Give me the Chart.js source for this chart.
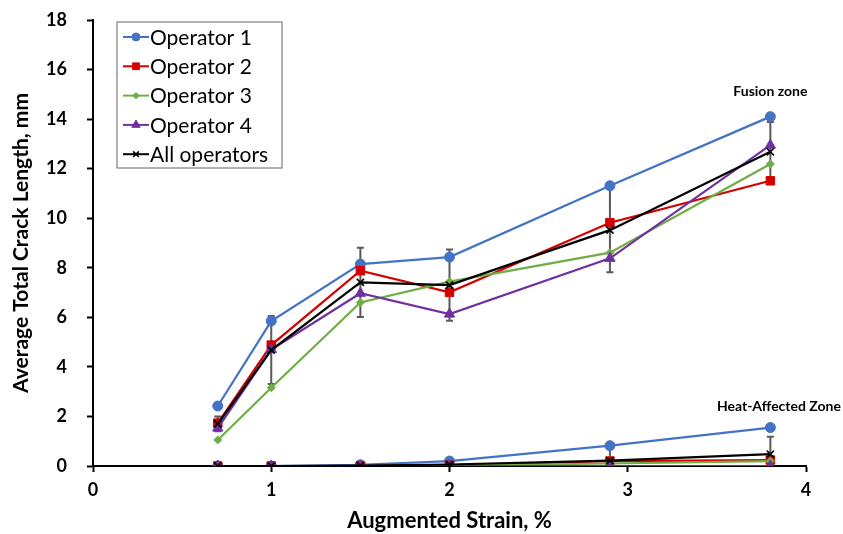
<!DOCTYPE html>
<html>
<head>
<meta charset="utf-8">
<script src="https://cdn.jsdelivr.net/npm/chart.js"></script>
<style>
  html, body { margin: 0; padding: 0; background: #fff; }
  #wrap { width: 843px; height: 534px; }
</style>
</head>
<body>
<div id="wrap"><canvas id="crackChart" width="843" height="534"></canvas></div>
<script>
// Augmented strain (%) at which each test was run
const strain = [0.7, 1.0, 1.5, 2.0, 2.9, 3.8];

// Fusion zone - average total crack length (mm)
const fusionOp1 = [2.42, 5.85, 8.15, 8.43, 11.31, 14.1];
const fusionOp2 = [1.73, 4.88, 7.88, 7.01, 9.82, 11.51];
const fusionOp3 = [1.05, 3.16, 6.6, 7.44, 8.61, 12.19];
const fusionOp4 = [1.53, 4.7, 6.97, 6.13, 8.38, 12.95];
const fusionAll = [1.7, 4.68, 7.41, 7.3, 9.52, 12.68];
const fusionAllErr = [0.3, 1.37, 1.4, 1.44, 1.7, 1.2];

// Heat-affected zone - average total crack length (mm)
const hazOp1 = [0, 0, 0.05, 0.2, 0.82, 1.55];
const hazOp2 = [0, 0, 0, 0.03, 0.2, 0.24];
const hazOp3 = [0, 0, 0, 0.02, 0.1, 0.2];
const hazOp4 = [0, 0, 0, 0, 0, 0];
const hazAll = [0, 0, 0.02, 0.06, 0.22, 0.48];
const hazAllErr = [0, 0, 0.03, 0.1, 0.6, 0.7];

const yTicks = [0, 2, 4, 6, 8, 10, 12, 14, 16, 18];
const xTicks = [0, 1, 2, 3, 4];

const FONT = 'Lato, "Open Sans", "Liberation Sans", sans-serif';

function points(values) {
    return strain.map((s, i) => ({ x: s, y: values[i] }));
}

function series(label, values, color, style, radius, order, inLegend) {
    return {
        label,
        data: points(values),
        showLine: true,
        borderColor: color,
        backgroundColor: color,
        borderWidth: 2.2,
        pointStyle: style,
        pointRadius: radius,
        pointBorderColor: color,
        pointBackgroundColor: color,
        pointBorderWidth: style === 'crossRot' ? 1.6 : 1,
        order,
        inLegend
    };
}

const BLUE = '#4472C4', RED = '#D40000', GREEN = '#70AD47', PURPLE = '#7030A0', BLACK = '#000000';

const datasets = [
    series('Operator 1', fusionOp1, BLUE, 'circle', 5, 4, true),
    series('Operator 2', fusionOp2, RED, 'rect', 6, 3, true),
    series('Operator 3', fusionOp3, GREEN, 'rectRot', 4, 2, true),
    series('Operator 4', fusionOp4, PURPLE, 'triangle', 6, 1, true),
    series('All operators', fusionAll, BLACK, 'crossRot', 5, 0, true),
    series('HAZ Operator 1', hazOp1, BLUE, 'circle', 5, 9, false),
    series('HAZ Operator 2', hazOp2, RED, 'rect', 6, 8, false),
    series('HAZ Operator 3', hazOp3, GREEN, 'rectRot', 4, 7, false),
    series('HAZ Operator 4', hazOp4, PURPLE, 'triangle', 6, 6, false),
    series('HAZ All operators', hazAll, BLACK, 'crossRot', 5, 5, false)
];

const errorBars = [
    { values: fusionAll, errs: fusionAllErr },
    { values: hazAll, errs: hazAllErr }
];

// vertical error bars (+/- one standard deviation) on the "All operators" series
const errorBarPlugin = {
    id: 'errorBars',
    beforeDatasetsDraw(chart) {
        const { ctx, chartArea, scales: { x, y } } = chart;
        ctx.save();
        ctx.beginPath();
        ctx.rect(chartArea.left, chartArea.top - 2, chartArea.right - chartArea.left, chartArea.bottom - chartArea.top + 2);
        ctx.clip();
        ctx.strokeStyle = '#595959';
        ctx.lineWidth = 2;
        errorBars.forEach(set => {
            set.values.forEach((v, i) => {
                const e = set.errs[i];
                if (!e) return;
                const px = x.getPixelForValue(strain[i]);
                const top = y.getPixelForValue(v + e);
                const bot = y.getPixelForValue(v - e);
                ctx.beginPath();
                ctx.moveTo(px, top);
                ctx.lineTo(px, bot);
                ctx.moveTo(px - 3.5, top);
                ctx.lineTo(px + 3.5, top);
                ctx.moveTo(px - 3.5, bot);
                ctx.lineTo(px + 3.5, bot);
                ctx.stroke();
            });
        });
        ctx.restore();
    }
};

// legend box inside the plot area plus the two zone labels
const legendPlugin = {
    id: 'boxLegend',
    afterDraw(chart) {
        const { ctx, chartArea, scales: { x, y } } = chart;
        const left = chartArea.left + 24;
        const top = chartArea.top + 2;
        const w = 165, h = 146;
        ctx.save();
        ctx.fillStyle = '#fff';
        ctx.fillRect(left, top, w, h);
        ctx.strokeStyle = '#7f7f7f';
        ctx.lineWidth = 1.2;
        ctx.strokeRect(left, top, w, h);

        ctx.font = '21px ' + FONT;
        ctx.textBaseline = 'middle';
        const items = chart.data.datasets.filter(d => d.inLegend);
        items.forEach((d, i) => {
            const cy = top + 15 + i * 29.3;
            const x1 = left + 6, x2 = left + 32;
            ctx.strokeStyle = d.borderColor;
            ctx.lineWidth = 2;
            ctx.beginPath();
            ctx.moveTo(x1, cy);
            ctx.lineTo(x2, cy);
            ctx.stroke();
            if (Chart.helpers && Chart.helpers.drawPoint) {
                ctx.fillStyle = d.pointBackgroundColor;
                ctx.strokeStyle = d.pointBorderColor;
                ctx.lineWidth = d.pointBorderWidth;
                Chart.helpers.drawPoint(ctx, {
                    pointStyle: d.pointStyle,
                    radius: d.pointRadius * 0.8,
                    rotation: 0,
                    borderWidth: d.pointBorderWidth
                }, (x1 + x2) / 2, cy);
            }
            ctx.fillStyle = '#000';
            ctx.textAlign = 'left';
            ctx.fillText(d.label, x2 + 1, cy + 1);
        });

        ctx.font = 'bold 14px ' + FONT;
        ctx.fillStyle = '#000';
        ctx.textAlign = 'center';
        ctx.fillText('Fusion zone', x.getPixelForValue(3.8), y.getPixelForValue(15.1));
        ctx.textAlign = 'left';
        ctx.fillText('Heat-Affected Zone', x.getPixelForValue(3.5), y.getPixelForValue(2.42));
        ctx.restore();
    }
};

function createCrackChart() {
    const ctx = document.getElementById('crackChart').getContext('2d');
    new Chart(ctx, {
        type: 'scatter',
        data: { datasets },
        options: {
            responsive: false,
            animation: false,
            devicePixelRatio: 1,
            layout: { padding: { top: 20, right: 37, left: 0, bottom: 0 } },
            plugins: { legend: { display: false }, tooltip: { enabled: false } },
            elements: { line: { tension: 0 } },
            scales: {
                x: {
                    type: 'linear',
                    min: 0,
                    max: 4,
                    afterBuildTicks: s => { s.ticks = xTicks.map(v => ({ value: v })); },
                    afterFit: s => { s.height = 68; s.paddingLeft = 0; s.paddingRight = 0; },
                    border: { color: '#000', width: 2 },
                    grid: { drawOnChartArea: false, color: '#000', tickLength: 6, tickWidth: 2 },
                    ticks: { color: '#000', padding: 7, font: { family: FONT, size: 18, weight: 'bold' } },
                    title: {
                        display: true,
                        text: 'Augmented Strain, %',
                        color: '#000',
                        padding: { top: 0, bottom: 0 },
                        font: { family: FONT, size: 22, weight: 'bold' }
                    }
                },
                y: {
                    type: 'linear',
                    min: 0,
                    max: 18,
                    afterBuildTicks: s => { s.ticks = yTicks.map(v => ({ value: v })); },
                    afterFit: s => { s.width = 93; s.paddingTop = 0; s.paddingBottom = 0; },
                    border: { color: '#000', width: 2 },
                    grid: { drawOnChartArea: false, color: '#000', tickLength: 6, tickWidth: 2 },
                    ticks: { color: '#000', padding: 20, font: { family: FONT, size: 18, weight: 'bold' } },
                    title: {
                        display: true,
                        text: 'Average Total Crack Length, mm',
                        color: '#000',
                        padding: { top: 9, bottom: 0 },
                        font: { family: FONT, size: 21, weight: 'bold' }
                    }
                }
            }
        },
        plugins: [errorBarPlugin, legendPlugin]
    });
}

window.addEventListener('DOMContentLoaded', createCrackChart);
</script>
</body>
</html>
